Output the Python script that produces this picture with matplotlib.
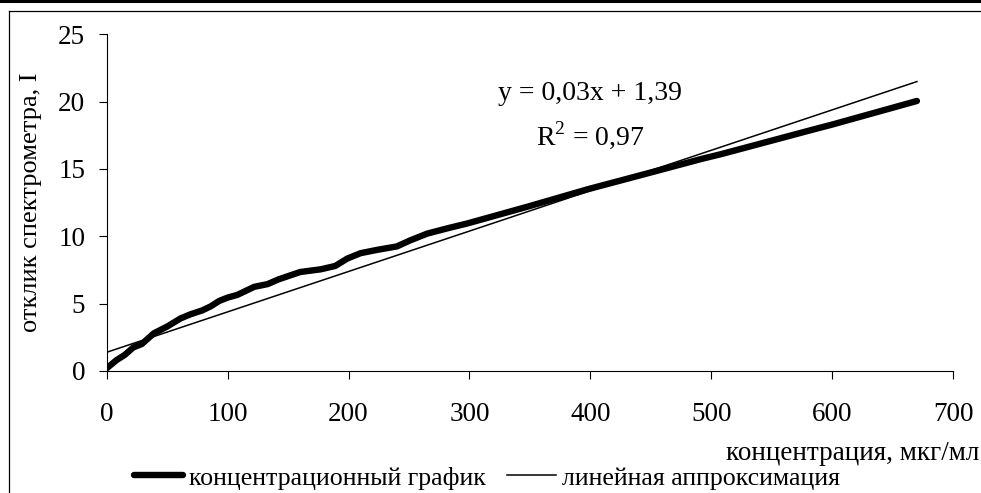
import numpy as np
import matplotlib
matplotlib.use("Agg")
import matplotlib.pyplot as plt
from matplotlib.lines import Line2D

plt.rcParams['font.family'] = ['Liberation Serif', 'DejaVu Serif']
plt.rcParams['mathtext.fontset'] = 'custom'
plt.rcParams['mathtext.rm'] = 'Liberation Serif'

# concentration curve, ug/ml vs spectrometer response
conc = [0, 8, 15, 22, 29, 39, 50, 61, 69, 79, 86, 93, 100, 108, 115, 122,
        133, 142, 160, 177, 189, 199, 210, 224, 240, 251, 265, 282, 298,
        348, 398, 442, 492, 508, 583, 600, 670]
resp = [0.2, 0.8, 1.2, 1.75, 2.0, 2.8, 3.3, 3.9, 4.2, 4.5, 4.8, 5.2, 5.45,
        5.65, 5.95, 6.25, 6.45, 6.8, 7.35, 7.55, 7.8, 8.35, 8.75, 9.0, 9.25,
        9.7, 10.2, 10.6, 10.95, 12.2, 13.5, 14.55, 15.75, 16.1, 17.9, 18.3,
        20.05]

# linear fit reported on the chart
slope = 0.03
intercept = 1.39
r2 = 0.97

xticks = [0, 100, 200, 300, 400, 500, 600, 700]
yticks = [0, 5, 10, 15, 20, 25]

W, H = 981, 493
fig = plt.figure(figsize=(W / 100, H / 100), dpi=100)

# page frame: heavy rule on top, thin box below it
fig.add_artist(Line2D([0, 1], [1 - 1.2 / H] * 2,
                      transform=fig.transFigure, color='black', linewidth=2.2))
fig.add_artist(Line2D([8.5 / W, 1], [1 - 11 / H] * 2,
                      transform=fig.transFigure, color='black', linewidth=0.9))
fig.add_artist(Line2D([8.5 / W] * 2, [0, 1 - 11 / H],
                      transform=fig.transFigure, color='black', linewidth=0.9))

x0, y0, x1, y1 = 106.7, 371.0, 953.2, 34.3
ax = fig.add_axes([x0 / W, 1 - y0 / H, (x1 - x0) / W, (y0 - y1) / H])

xfit = np.array([conc[0], conc[-1]], dtype=float)
yfit = slope * xfit + intercept

ax.plot(conc, resp, color='black', linewidth=4.6,
        solid_capstyle='round', solid_joinstyle='round',
        label='концентрационный график')
ax.plot(xfit, yfit, color='black', linewidth=1.1,
        label='линейная аппроксимация')

ax.set_xlim(0, 700)
ax.set_ylim(0, 25)
ax.set_xticks(xticks)
ax.set_yticks(yticks)
ax.spines['top'].set_visible(False)
ax.spines['right'].set_visible(False)
for s in ('left', 'bottom'):
    ax.spines[s].set_linewidth(0.8)
ax.tick_params(direction='out', length=5.5, width=0.8, labelsize=19.5)
ax.tick_params(axis='y', pad=10)
ax.tick_params(axis='x', pad=17)

ax.set_ylabel('отклик спектрометра, I', fontsize=19, va='center')
ax.yaxis.set_label_coords((31 - x0) / (x1 - x0), 0.5)
ax.set_xlabel('концентрация, мкг/мл', fontsize=19.5, ha='right', va='center')
ax.xaxis.set_label_coords((979 - x0) / (x1 - x0), (y0 - 454) / (y0 - y1))

ax.text((590 - x0) / (x1 - x0), (y0 - 94) / (y0 - y1),
        'y = 0,03x + 1,39', transform=ax.transAxes,
        ha='center', va='center', fontsize=20)
ax.text((590 - x0) / (x1 - x0), (y0 - 135) / (y0 - y1),
        r'R$^{2}$ = ' + f'{r2:.2f}'.replace('.', ','),
        transform=ax.transAxes, ha='center', va='center', fontsize=20)

fig.legend(loc='center', bbox_to_anchor=(487 / W, 1 - 478 / H), ncol=2,
           frameon=False, fontsize=18.6, handlelength=1.9, handletextpad=0.25,
           columnspacing=0.8, borderpad=0)

fig.savefig('out.png', dpi=100)
